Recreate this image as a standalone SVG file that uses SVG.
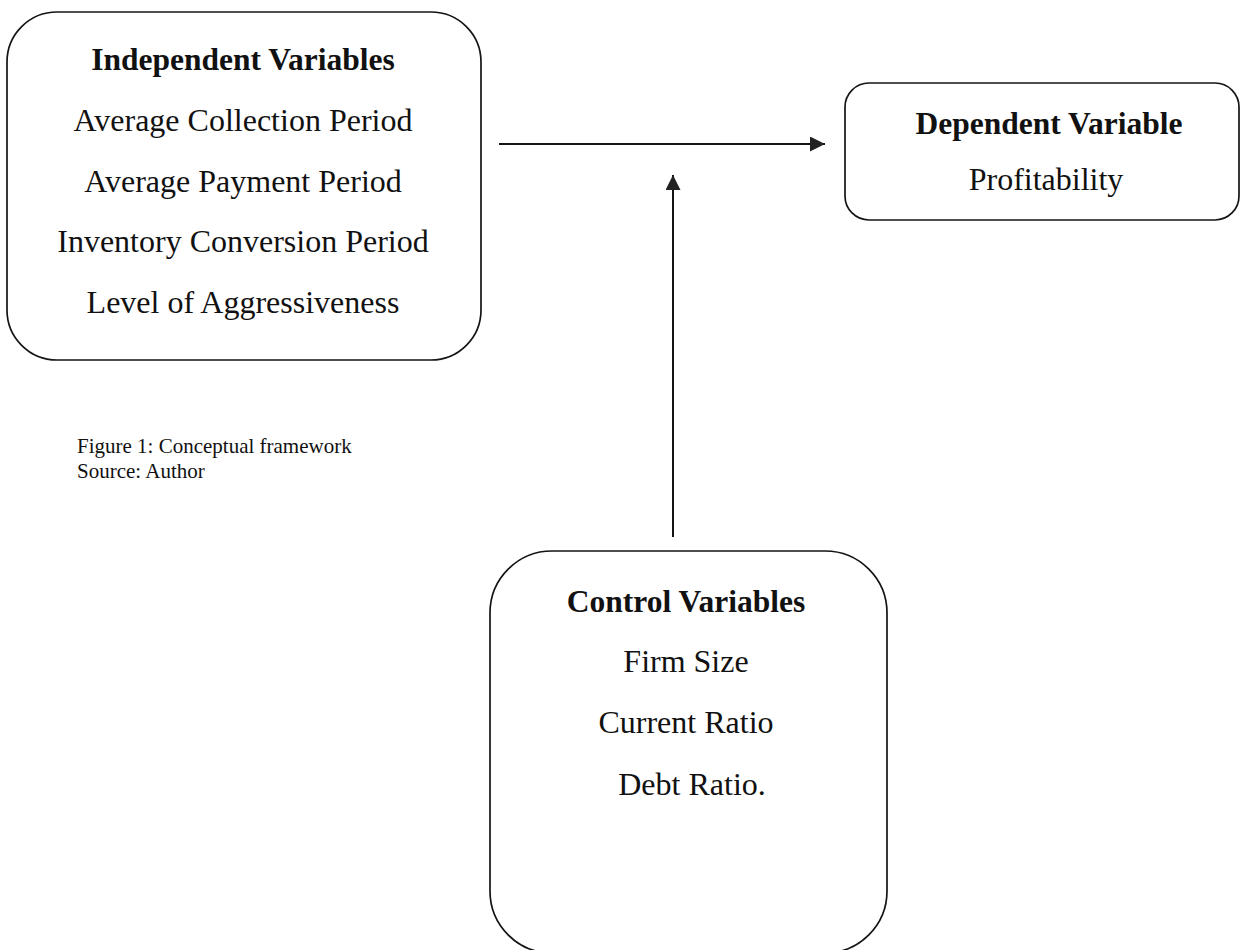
<svg xmlns="http://www.w3.org/2000/svg" width="1241" height="950" viewBox="0 0 1241 950">
  <style>
    .box { fill: none; stroke: #141414; stroke-width: 1.7; }
    .title { font-family: "Liberation Serif", "Times New Roman", serif; font-weight: bold; font-size: 31.5px; fill: #111; text-anchor: middle; }
    .item { font-family: "Liberation Serif", "Times New Roman", serif; font-size: 32px; fill: #111; text-anchor: middle; }
    .caption { font-family: "Liberation Serif", "Times New Roman", serif; font-size: 21px; fill: #111; }
    .conn { stroke: #141414; stroke-width: 2; fill: none; }
  </style>
  <defs>
    <marker id="arrow" viewBox="0 0 15 15" refX="15" refY="7.5" markerWidth="15" markerHeight="15" markerUnits="userSpaceOnUse" orient="auto">
      <path d="M0,0 L15,7.5 L0,15 z" fill="#222"/>
    </marker>
  </defs>
  <rect width="1241" height="950" fill="#ffffff"/>

  <g id="independent-variables">
    <rect class="box" x="7" y="12" width="474" height="348" rx="50" ry="50"/>
    <text class="title" x="243" y="70">Independent Variables</text>
    <text class="item" x="243" y="131">Average Collection Period</text>
    <text class="item" x="243" y="192">Average Payment Period</text>
    <text class="item" x="243" y="252">Inventory Conversion Period</text>
    <text class="item" x="243" y="313">Level of Aggressiveness</text>
  </g>

  <g id="dependent-variable">
    <rect class="box" x="845" y="83" width="394" height="137" rx="24" ry="24"/>
    <text class="title" x="1049" y="134">Dependent Variable</text>
    <text class="item" x="1046" y="190">Profitability</text>
  </g>

  <g id="control-variables">
    <rect class="box" x="490" y="551" width="397" height="402" rx="62" ry="62"/>
    <text class="title" x="686" y="612">Control Variables</text>
    <text class="item" x="686" y="672">Firm Size</text>
    <text class="item" x="686" y="733">Current Ratio</text>
    <text class="item" x="692" y="795">Debt Ratio.</text>
  </g>

  <g id="caption">
    <text class="caption" x="77" y="453">Figure 1: Conceptual framework</text>
    <text class="caption" x="77" y="478">Source: Author</text>
  </g>

  <g id="connectors">
    <line class="conn" x1="499" y1="144" x2="825" y2="144" marker-end="url(#arrow)"/>
    <line class="conn" x1="673" y1="537" x2="673" y2="175" marker-end="url(#arrow)"/>
  </g>
</svg>
